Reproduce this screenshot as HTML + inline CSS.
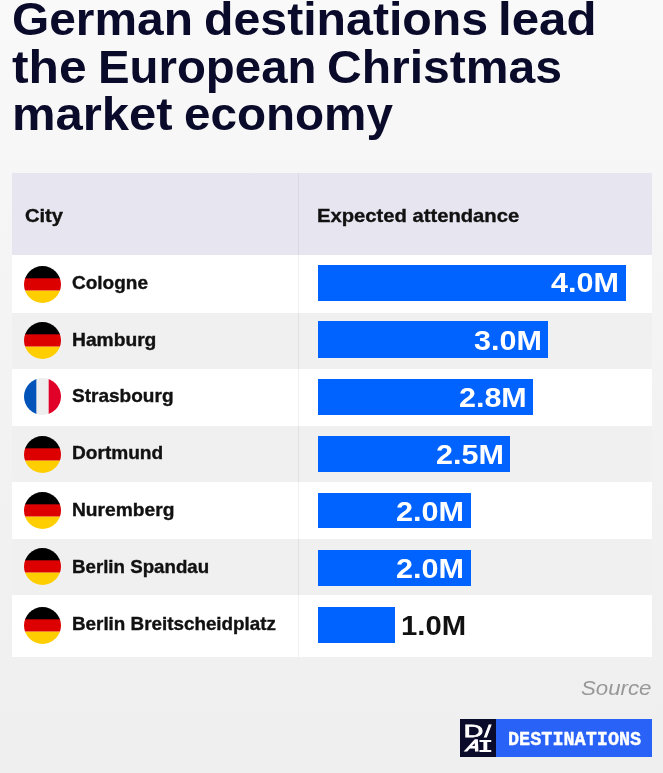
<!DOCTYPE html>
<html lang="en">
<head>
<meta charset="utf-8">
<title>German destinations lead the European Christmas market economy</title>
<style>
html,body{margin:0;padding:0;}
body{width:663px;height:773px;overflow:hidden;background:linear-gradient(to bottom,#f9f9f9 0,#f5f5f5 32%,#f2f2f2 58%,#efefef 100%);font-family:"Liberation Sans", sans-serif;position:relative;}
.a,.g{position:absolute;}
.g{left:0;top:0;margin:0;}
.t{position:absolute;white-space:nowrap;transform-origin:0 0;margin:0;font-weight:bold;}
h1 .t{font-size:47px;line-height:47px;color:#0a0a2a;}
.th{font-size:18.4px;line-height:18.4px;color:#111;-webkit-text-stroke:0.35px #111;}
.city{font-size:17.7px;line-height:17.7px;color:#111;-webkit-text-stroke:0.35px #111;}
.val{font-size:27.2px;line-height:27.2px;color:#fff;}
.val.out{color:#111;}
.bg{position:absolute;left:12.2px;width:639.6px;background:#fff;}
.alt .bg{background:#f0f0f0;}
.bar{position:absolute;left:318.1px;background:#0062ff;}
.flag{position:absolute;left:24.2px;width:37px;height:37px;border-radius:50%;overflow:hidden;}
.flag svg{display:block;}
.source{font-weight:normal;font-style:italic;font-size:21px;line-height:21px;color:#989898;}
.brand{font-family:"Liberation Mono", monospace;font-size:20.3px;line-height:20.3px;color:#fff;-webkit-text-stroke:0.4px #fff;}
</style>
</head>
<body>
<h1 class="g">
  <span class="t" style="left:12.06px;top:-4.69px;transform:scaleX(1.0185)">German</span>
  <span class="t" style="left:203.95px;top:-4.69px;transform:scaleX(1.0264)">destinations</span>
  <span class="t" style="left:497.96px;top:-4.69px;transform:scaleX(1.0466)">lead</span>
  <span class="t" style="left:11.94px;top:42.91px;transform:scaleX(1.0588)">the</span>
  <span class="t" style="left:97.58px;top:42.91px;transform:scaleX(1.0076)">European</span>
  <span class="t" style="left:327.36px;top:42.91px;transform:scaleX(1.0221)">Christmas</span>
  <span class="t" style="left:11.67px;top:90.41px;transform:scaleX(1.0417)">market</span>
  <span class="t" style="left:184.48px;top:90.41px;transform:scaleX(1.0123)">economy</span>
</h1>
<section class="g table">
  <div class="g head">
    <div class="bg" style="top:172.7px;height:82.3px;background:#e7e6f0"></div>
    <div class="t th" style="left:24.81px;top:207.02px;transform:scaleX(1.0939)">City</div>
    <div class="t th" style="left:317.30px;top:207.02px;transform:scaleX(1.0989)">Expected attendance</div>
  </div>
  <div class="g row">
    <div class="bg" style="top:255px;height:57.5px"></div>
    <div class="flag de" style="top:265.8px"><svg width="37" height="37" viewBox="0 0 37 37"><rect width="37" height="13" fill="#000"/><rect y="12.33" width="37" height="12.34" fill="#dd0000"/><rect y="24.67" width="37" height="13" fill="#ffce00"/></svg></div>
    <div class="t city" style="left:71.53px;top:275.32px;transform:scaleX(1.0739)">Cologne</div>
    <div class="bar" style="top:265.0px;width:307.5px;height:35.8px"></div>
    <div class="t val" style="left:550.90px;top:269.28px;transform:scaleX(1.1237)">4.0M</div>
  </div>
  <div class="g row alt">
    <div class="bg" style="top:312.5px;height:56.5px"></div>
    <div class="flag de" style="top:321.9px"><svg width="37" height="37" viewBox="0 0 37 37"><rect width="37" height="13" fill="#000"/><rect y="12.33" width="37" height="12.34" fill="#dd0000"/><rect y="24.67" width="37" height="13" fill="#ffce00"/></svg></div>
    <div class="t city" style="left:71.71px;top:332.22px;transform:scaleX(1.0867)">Hamburg</div>
    <div class="bar" style="top:321.3px;width:230.3px;height:36.9px"></div>
    <div class="t val" style="left:473.68px;top:326.58px;transform:scaleX(1.1241)">3.0M</div>
  </div>
  <div class="g row">
    <div class="bg" style="top:369px;height:56.8px"></div>
    <div class="flag fr" style="top:378.3px"><svg width="37" height="37" viewBox="0 0 37 37"><rect width="13" height="37" fill="#0053b8"/><rect x="12.33" width="12.34" height="37" fill="#eeeeee"/><rect x="24.67" width="13" height="37" fill="#e00028"/></svg></div>
    <div class="t city" style="left:71.92px;top:388.12px;transform:scaleX(1.0761)">Strasbourg</div>
    <div class="bar" style="top:378.8px;width:215.0px;height:35.8px"></div>
    <div class="t val" style="left:458.68px;top:383.58px;transform:scaleX(1.1207)">2.8M</div>
  </div>
  <div class="g row alt">
    <div class="bg" style="top:425.8px;height:56.5px"></div>
    <div class="flag de" style="top:435.7px"><svg width="37" height="37" viewBox="0 0 37 37"><rect width="37" height="13" fill="#000"/><rect y="12.33" width="37" height="12.34" fill="#dd0000"/><rect y="24.67" width="37" height="13" fill="#ffce00"/></svg></div>
    <div class="t city" style="left:71.72px;top:445.22px;transform:scaleX(1.0793)">Dortmund</div>
    <div class="bar" style="top:435.8px;width:191.9px;height:36.4px"></div>
    <div class="t val" style="left:435.58px;top:441.18px;transform:scaleX(1.1241)">2.5M</div>
  </div>
  <div class="g row">
    <div class="bg" style="top:482.3px;height:56.5px"></div>
    <div class="flag de" style="top:491.8px"><svg width="37" height="37" viewBox="0 0 37 37"><rect width="37" height="13" fill="#000"/><rect y="12.33" width="37" height="12.34" fill="#dd0000"/><rect y="24.67" width="37" height="13" fill="#ffce00"/></svg></div>
    <div class="t city" style="left:71.71px;top:501.92px;transform:scaleX(1.0859)">Nuremberg</div>
    <div class="bar" style="top:493.1px;width:153.1px;height:35.4px"></div>
    <div class="t val" style="left:396.47px;top:497.78px;transform:scaleX(1.1259)">2.0M</div>
  </div>
  <div class="g row alt">
    <div class="bg" style="top:538.8px;height:56.5px"></div>
    <div class="flag de" style="top:547.8px"><svg width="37" height="37" viewBox="0 0 37 37"><rect width="37" height="13" fill="#000"/><rect y="12.33" width="37" height="12.34" fill="#dd0000"/><rect y="24.67" width="37" height="13" fill="#ffce00"/></svg></div>
    <div class="t city" style="left:71.74px;top:558.52px;transform:scaleX(1.0570)">Berlin Spandau</div>
    <div class="bar" style="top:549.8px;width:153.1px;height:36.4px"></div>
    <div class="t val" style="left:396.47px;top:554.88px;transform:scaleX(1.1259)">2.0M</div>
  </div>
  <div class="g row">
    <div class="bg" style="top:595.3px;height:61.3px"></div>
    <div class="flag de" style="top:606.6px"><svg width="37" height="37" viewBox="0 0 37 37"><rect width="37" height="13" fill="#000"/><rect y="12.33" width="37" height="12.34" fill="#dd0000"/><rect y="24.67" width="37" height="13" fill="#ffce00"/></svg></div>
    <div class="t city" style="left:71.74px;top:616.42px;transform:scaleX(1.0642)">Berlin Breitscheidplatz</div>
    <div class="bar" style="top:607.0px;width:76.6px;height:35.8px"></div>
    <div class="t val out" style="left:401.25px;top:611.58px;transform:scaleX(1.0772)">1.0M</div>
  </div>
  <div class="a divider" style="left:298px;top:172.7px;width:1px;height:483.9px;background:rgba(0,0,0,0.055)"></div>
</section>
<footer class="g">
  <div class="t source" style="left:581.44px;top:677.02px;transform:scaleX(1.0585)">Source</div>
  <div class="a" style="left:460.3px;top:718.9px;width:191.9px;height:37.8px;background:#2962f6"></div>
  <div class="a" style="left:460.3px;top:718.9px;width:35.9px;height:37.8px;background:#0a0a2a"></div>
  <svg class="a" style="left:460.3px;top:718.9px" width="36" height="38" viewBox="0 0 36 38" font-family="Liberation Sans, sans-serif" fill="#fff" stroke="#fff">
    <text transform="translate(3.7 17.8) scale(1.42 0.9)" font-size="19" stroke-width="0.9">D</text>
    <text transform="translate(24.4 17.7) scale(1.22 0.88)" font-size="19" stroke-width="0.9">/</text>
    <text transform="translate(4.9 32.2) scale(1.12 0.95) skewX(-20)" font-size="16.9" stroke-width="1.3">A</text>
    <text transform="translate(17.4 33.2) scale(1.43 1)" font-family="Liberation Mono, monospace" font-weight="bold" font-size="18.3" stroke="none">I</text>
  </svg>
  <div class="t brand" style="left:508.39px;top:729.94px;transform:scaleX(0.9118)">DESTINATIONS</div>
</footer>
</body>
</html>
